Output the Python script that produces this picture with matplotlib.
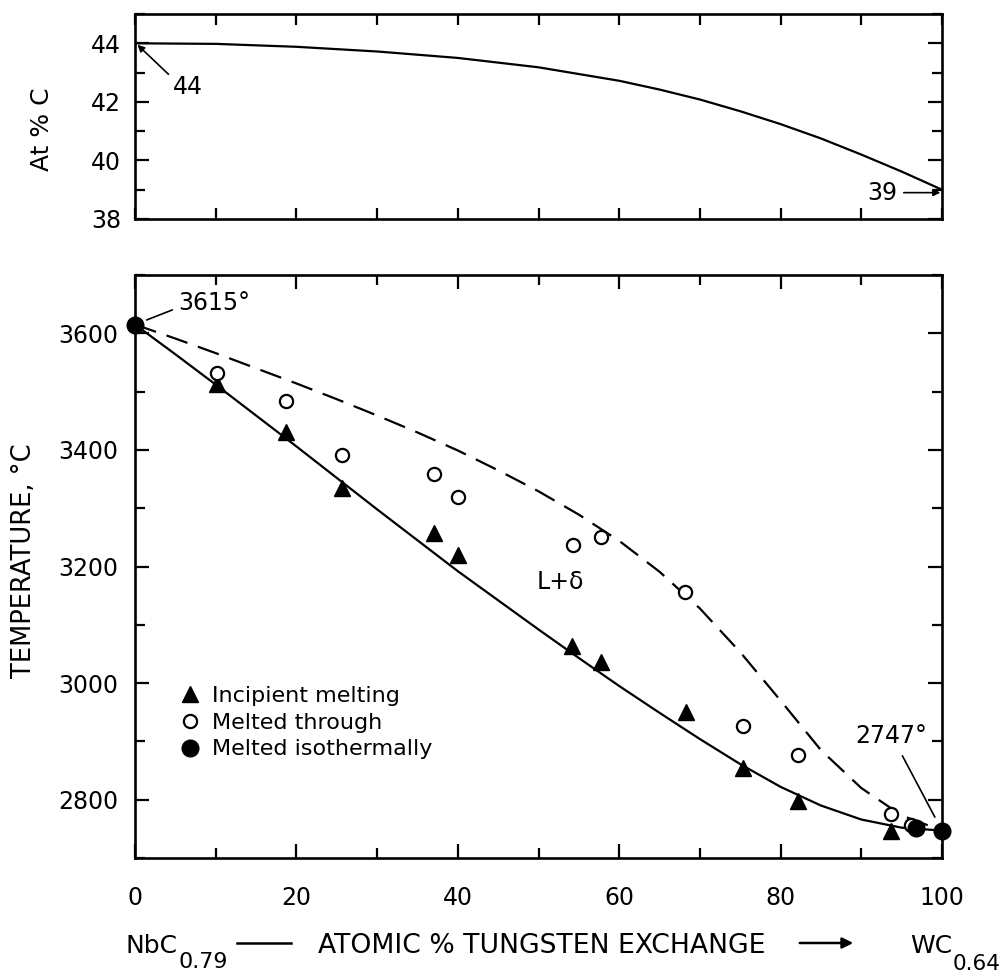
import matplotlib.pyplot as plt
from matplotlib.lines import Line2D
from matplotlib.patches import FancyArrowPatch
from matplotlib.ticker import MultipleLocator

# carbon content of the delta phase along the join
carbon_x = [0, 10, 20, 30, 40, 50, 60, 65, 70, 75, 80, 85, 90, 95, 100]
carbon_at = [44.0, 43.98, 43.88, 43.72, 43.5, 43.18, 42.72, 42.42, 42.08, 41.68, 41.24, 40.75,
             40.2, 39.62, 39.0]

# solidus (solid) and liquidus (dashed) curves, deg C
curve_x = [0, 5, 10, 15, 20, 25, 30, 35, 40, 45, 50, 55, 60, 65, 70, 75, 80, 85, 90, 95, 100]
solidus_t = [3615, 3564, 3512, 3459, 3406, 3352, 3298, 3245, 3192, 3142, 3092, 3043, 2995, 2949,
             2904, 2861, 2822, 2790, 2766, 2752, 2747]
liquidus_t = [3615, 3591, 3566, 3540, 3514, 3487, 3459, 3430, 3399, 3365, 3329, 3289, 3244, 3191,
              3128, 3053, 2970, 2885, 2820, 2773, 2747]

# melting experiments
incipient_x = [10.1, 18.7, 25.6, 37.0, 40.0, 54.2, 57.7, 68.3, 75.4, 82.2, 93.7]
incipient_t = [3513, 3430, 3334, 3258, 3220, 3064, 3037, 2951, 2854, 2798, 2747]
through_x = [10.1, 18.7, 25.6, 37.0, 40.0, 54.3, 57.7, 68.2, 75.4, 82.2, 93.7, 96.2]
through_t = [3532, 3484, 3391, 3358, 3319, 3237, 3251, 3156, 2926, 2877, 2776, 2757]
isotherm_x = [0, 96.8, 100]
isotherm_t = [3615, 2752, 2747]

W, H = 1005, 974
fig = plt.figure(figsize=(W / 100, H / 100), dpi=100)
plt.rcParams['mathtext.default'] = 'regular'


def fx(px):
    return px / W


def fy(py):
    return 1 - py / H


ax1 = fig.add_axes([fx(135), fy(219), fx(942) - fx(135), fy(14) - fy(219)])
ax2 = fig.add_axes([fx(135), fy(858), fx(942) - fx(135), fy(275) - fy(858)])

for ax in (ax1, ax2):
    for s in ax.spines.values():
        s.set_linewidth(1.9)
    ax.tick_params(which='both', direction='in', top=True, right=True, width=1.6, labelsize=17)
    ax.tick_params(which='major', length=10)
    ax.tick_params(which='minor', length=7)

# --- top panel: At % C ---
ax1.plot(carbon_x, carbon_at, color='black', lw=1.6)
ax1.set_xlim(0, 100)
ax1.set_ylim(38, 45)
ax1.xaxis.set_major_locator(MultipleLocator(10))
ax1.tick_params(axis='x', which='both', labelbottom=False, length=8)
ax1.yaxis.set_major_locator(MultipleLocator(2))
ax1.yaxis.set_minor_locator(MultipleLocator(1))
ax1.tick_params(axis='y', pad=10)
ax1.set_ylabel('At % C', fontsize=18)
ax1.yaxis.set_label_coords(-0.100, 0.44)

ax1.annotate('44', xy=(0.3, 43.95), xytext=(6.6, 42.5), fontsize=17, ha='center', va='center',
             arrowprops=dict(arrowstyle='-|>', color='black', lw=1.2, mutation_scale=10,
                             shrinkA=2, shrinkB=0, relpos=(0, 0.85)))
ax1.annotate('39', xy=(99.8, 38.9), xytext=(94.4, 38.9), fontsize=17, ha='right', va='center',
             arrowprops=dict(arrowstyle='-|>', color='black', lw=1.2, mutation_scale=10,
                             shrinkA=3, shrinkB=0, relpos=(1, 0.5)))

# --- bottom panel: melting temperatures ---
ax2.plot(curve_x, solidus_t, color='black', lw=1.6, zorder=2)
ax2.plot(curve_x, liquidus_t, color='black', lw=1.6, linestyle=(0, (10, 5)), zorder=2)
ax2.plot(incipient_x, incipient_t, linestyle='none', marker='^', ms=12, color='black',
         label='Incipient melting', zorder=3)
ax2.plot(through_x, through_t, linestyle='none', marker='o', ms=9.5, mfc='white', mec='black',
         mew=1.6, label='Melted through', zorder=3)
ax2.plot(isotherm_x, isotherm_t, linestyle='none', marker='o', ms=12, color='black',
         label='Melted isothermally', zorder=4, clip_on=False)

ax2.set_xlim(0, 100)
ax2.set_ylim(2700, 3700)
ax2.xaxis.set_major_locator(MultipleLocator(20))
ax2.xaxis.set_minor_locator(MultipleLocator(10))
ax2.yaxis.set_major_locator(MultipleLocator(200))
ax2.yaxis.set_minor_locator(MultipleLocator(100))
ax2.tick_params(axis='y', pad=12)
ax2.tick_params(axis='x', pad=20)
ax2.set_ylabel('TEMPERATURE, °C', fontsize=18.5)
ax2.yaxis.set_label_coords(-0.122, 0.51)

ax2.annotate('3615°', xy=(0, 3615), xytext=(5.3, 3652), fontsize=17, ha='left', va='center',
             arrowprops=dict(arrowstyle='-', color='black', lw=1.2, shrinkA=2, shrinkB=9,
                             relpos=(0, 0.3)))
ax2.annotate('2747°', xy=(100, 2747), xytext=(93.7, 2909), fontsize=17, ha='center', va='center',
             arrowprops=dict(arrowstyle='-', color='black', lw=1.2, shrinkA=4, shrinkB=11,
                             relpos=(0.6, 0)))
ax2.text(52.7, 3173, 'L+δ', fontsize=17, ha='center', va='center')

leg = ax2.legend(loc='upper left', bbox_to_anchor=(0.057, 0.295), frameon=False, fontsize=16,
                 borderpad=0, borderaxespad=0, handlelength=0.8, handletextpad=0.6,
                 labelspacing=0.3)

# composition axis caption
fig.text(fx(125), fy(953), 'NbC', fontsize=18, va='baseline', ha='left')
fig.text(fx(178), fy(968), '0.79', fontsize=16, va='baseline', ha='left')
fig.text(fx(318), fy(953), 'ATOMIC % TUNGSTEN EXCHANGE', fontsize=19.2, va='baseline', ha='left')
fig.text(fx(910), fy(953), 'WC', fontsize=18, va='baseline', ha='left')
fig.text(fx(953), fy(970), '0.64', fontsize=15.5, va='baseline', ha='left')
fig.add_artist(Line2D([fx(237), fx(291)], [fy(943), fy(943)], color='black', lw=1.8))
fig.add_artist(FancyArrowPatch((fx(797), fy(943)), (fx(856), fy(943)), transform=fig.transFigure,
                               arrowstyle='-|>', mutation_scale=16, color='black', lw=1.8))

fig.savefig('out.png', dpi=100, facecolor='white')
